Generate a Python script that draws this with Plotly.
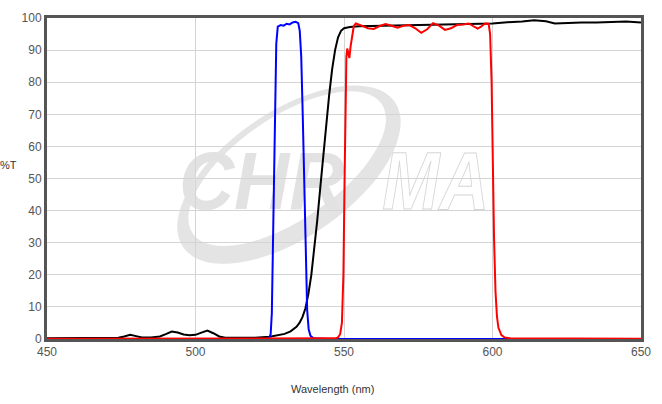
import base64
import plotly.graph_objects as go

# ---- data ----
wl_black = [450, 455, 460, 465, 470, 474, 476, 478, 480, 482, 485, 488, 490, 492, 494, 496, 498, 500,
            502, 504, 506, 508, 510, 515, 520, 525, 528, 530, 532, 534, 535, 536, 537, 538, 539, 540,
            541, 542, 543, 544, 545, 546, 547, 548, 549, 550, 552, 555, 560, 565, 570, 575, 580, 585,
            590, 595, 600, 605, 610, 614, 618, 621, 625, 630, 635, 640, 645, 650]
t_black = [0.2, 0.2, 0.2, 0.3, 0.3, 0.4, 0.8, 1.3, 0.9, 0.5, 0.5, 0.8, 1.5, 2.3, 2.0, 1.4, 1.2, 1.3,
           2.0, 2.6, 1.8, 0.8, 0.4, 0.3, 0.4, 0.7, 1.1, 1.6, 2.4, 3.8, 5.0, 6.8, 9.5, 14, 20, 28,
           37, 47, 57, 67, 76, 84, 90, 94, 96, 96.8, 97.2, 97.4, 97.5, 97.6, 97.8, 97.9, 98.0, 98.1,
           98.1, 98.2, 98.3, 98.7, 98.9, 99.3, 99.0, 98.3, 98.5, 98.6, 98.6, 98.8, 98.9, 98.6]

wl_blue = [450, 521, 524, 524.8, 525.3, 525.7, 526.2, 526.7, 527.2, 527.7, 528.7, 529.7, 530.7, 531.7,
           532.7, 533.7, 534.6, 535.1, 535.6, 536.1, 536.6, 537.1, 537.6, 538.1, 538.7, 539.7, 545, 650]
t_blue = [0, 0, 0, 0.3, 1.5, 8, 35, 72, 92, 97.3, 97.8, 97.6, 98.2, 98.0,
          98.6, 98.8, 98.4, 96, 88, 70, 46, 24, 9, 3, 1, 0.2, 0, 0]

wl_red = [450, 540, 546, 547, 548, 548.7, 549.3, 549.8, 550.2, 550.5, 550.8, 551.1, 551.4, 551.8, 552.2,
          552.7, 553.3, 554, 555, 556, 558, 560, 562, 564, 566, 568, 570, 572, 574, 576, 578, 580, 582,
          584, 586, 588, 590, 592, 594, 595, 596, 597.5, 598.7, 599.2, 599.7, 600.1, 600.5, 601, 601.5,
          602, 603, 604, 606, 650]
t_red = [0.1, 0.1, 0.1, 0.2, 0.5, 1.5, 5, 20, 50, 76, 88, 90.5, 88.5, 87.5, 91,
         94.5, 97.5, 98.3, 98.0, 97.6, 96.8, 96.6, 97.5, 98.1, 97.6, 97.0, 97.6, 97.8, 96.8, 95.4, 96.5, 98.4, 97.6,
         96.3, 96.8, 97.8, 98.0, 98.3, 97.2, 96.7, 97.2, 98.3, 98.2, 95, 80, 55, 32, 15, 7,
         3.5, 1.2, 0.5, 0.2, 0.1]

x_ticks = [450, 500, 550, 600, 650]
y_ticks = [0, 10, 20, 30, 40, 50, 60, 70, 80, 90, 100]

# ---- watermark logo (decorative, drawn as an SVG layout image under the grid) ----
svg = """<svg xmlns="http://www.w3.org/2000/svg" width="599" height="328" viewBox="0 0 599 328">
<g transform="rotate(-35 244 160)">
<path fill="#e4e4e4" fill-rule="evenodd" d="M114,160 a130,64 0 1,0 260,0 a130,64 0 1,0 -260,0 Z M130,154 a116,52 0 1,0 232,0 a116,52 0 1,0 -232,0 Z"/>
</g>
<text x="133" y="195" font-family="Liberation Sans, Arial, sans-serif" font-weight="bold" font-style="italic"
 font-size="84" fill="#e2e2e2" textLength="167" lengthAdjust="spacingAndGlyphs">CHR</text>
<text x="338" y="195" font-family="Liberation Sans, Arial, sans-serif" font-weight="bold" font-style="italic"
 font-size="84" fill="#ffffff" stroke="#d6d6d6" stroke-width="1" textLength="108" lengthAdjust="spacingAndGlyphs">MA</text>
</svg>"""
svg_uri = "data:image/svg+xml;base64," + base64.b64encode(svg.encode()).decode()

fig = go.Figure()
fig.add_trace(go.Scatter(x=wl_black, y=t_black, mode="lines", line=dict(color="#000000", width=2),
                         hoverinfo="skip", showlegend=False))
fig.add_trace(go.Scatter(x=wl_blue, y=t_blue, mode="lines", line=dict(color="#0000ff", width=2),
                         hoverinfo="skip", showlegend=False))
fig.add_trace(go.Scatter(x=wl_red, y=t_red, mode="lines", line=dict(color="#ff0000", width=2),
                         hoverinfo="skip", showlegend=False))

axis_common = dict(showgrid=True, gridcolor="#d4d4d4", gridwidth=1, showline=True, linecolor="#555555",
                   linewidth=3, mirror=True, ticks="", zeroline=False,
                   tickfont=dict(family="Arial, Liberation Sans, sans-serif", size=12, color="#555555"))

fig.update_layout(
    width=662, height=404,
    margin=dict(l=47, r=16, t=11, b=65),
    paper_bgcolor="#ffffff", plot_bgcolor="#ffffff",
    xaxis=dict(range=[450, 650], tickvals=x_ticks, **axis_common),
    yaxis=dict(range=[0, 100], tickvals=y_ticks, **axis_common),
    images=[dict(source=svg_uri, xref="paper", yref="paper", x=0, y=1, sizex=1, sizey=1,
                 xanchor="left", yanchor="top", sizing="stretch", layer="below")],
    annotations=[
        dict(text="%T", xref="paper", yref="paper", x=-0.065, y=0.543, showarrow=False,
             xanchor="center", yanchor="middle",
             font=dict(family="Arial, Liberation Sans, sans-serif", size=11, color="#333333")),
        dict(text="Wavelength (nm)", xref="paper", yref="paper", x=0.481, y=-0.155, showarrow=False,
             xanchor="center", yanchor="middle",
             font=dict(family="Arial, Liberation Sans, sans-serif", size=11, color="#333333")),
    ],
)

fig.write_html("out.html", config={"displayModeBar": False},
               post_script="document.body.style.margin='0';document.body.style.overflow='hidden';")
